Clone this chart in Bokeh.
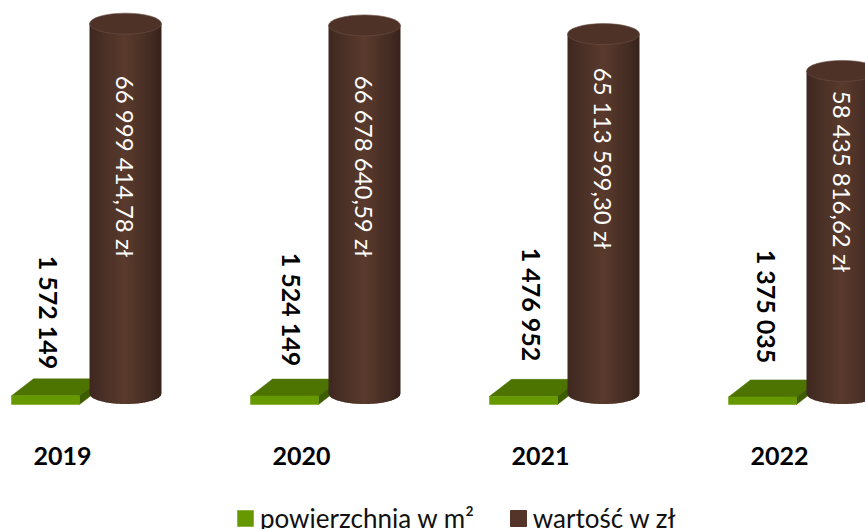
from bokeh.embed import file_html
from bokeh.resources import INLINE
from bokeh.plotting import figure
from bokeh.models import Legend, LegendItem, Range1d
from bokeh.core.properties import value
import math

years = ["2019", "2020", "2021", "2022"]
area_m2 = [1572149, 1524149, 1476952, 1375035]
value_pln = [66999414.78, 66678640.59, 65113599.30, 58435816.62]
area_labels = ["1 572 149", "1 524 149", "1 476 952", "1 375 035"]
value_labels = ["66 999 414,78 zł", "66 678 640,59 zł", "65 113 599,30 zł", "58 435 816,62 zł"]

W, H = 865, 529
PX_X = 239.0               # px per year group
PX_Y = 5.52e-6             # px per unit
BASE = 393                 # plot-px row of cylinder base centre
CX0 = 125                  # plot-px column of first cylinder axis
RX, RY = 36, 10.5

def dx(px):
    return px / PX_X
def dy(px):
    return px / PX_Y

p = figure(width=W, height=H, output_backend="svg", toolbar_location=None,
           x_range=Range1d(-CX0 / PX_X, (W - CX0) / PX_X),
           y_range=Range1d(-dy(H - BASE), dy(BASE)),
           min_border=0, outline_line_color=None)
p.axis.visible = False
p.grid.visible = False
p.background_fill_color = "white"

GREEN_F, GREEN_T, GREEN_S = "#669900", "#4d7300", "#3e5c00"
BROWN = "#543428"

idx = list(range(len(years)))

bx0 = [i + dx(-114) for i in idx]
bx1 = [i + dx(-46) for i in idx]
by0 = [-dy(11)] * 4
by1 = [-dy(11) + a for a in area_m2]
DX, DY = dx(22), dy(17)
p.patches([[a, b, b + DX, a + DX] for a, b in zip(bx0, bx1)],
          [[t, t, t + DY, t + DY] for t in by1],
          fill_color=GREEN_T, line_color=GREEN_T, line_width=0.5)
p.patches([[b, b + DX, b + DX, b] for b in bx1],
          [[l, l + DY, t + DY, t] for l, t in zip(by0, by1)],
          fill_color=GREEN_S, line_color=GREEN_S, line_width=0.5)
front = p.quad(left=bx0, right=bx1, bottom=by0, top=by1,
               fill_color=GREEN_F, line_color=GREEN_F, line_width=0.5)

N = 36
def shade(t):
    stops = [(0, (62, 40, 32)), (0.12, (70, 45, 36)), (0.5, (90, 58, 45)),
             (0.85, (68, 44, 35)), (1, (56, 35, 28))]
    for (a, ca), (b, cb) in zip(stops, stops[1:]):
        if t <= b:
            f = (t - a) / (b - a)
            c = [round(u + (v - u) * f) for u, v in zip(ca, cb)]
            return "#%02x%02x%02x" % tuple(c)
    return "#38231c"

for i, v in zip(idx, value_pln):
    xs_all, ys_all, cols = [], [], []
    for k in range(N):
        a = -1 + 2 * k / N
        b = min(1.0, -1 + 2 * (k + 1.6) / N)
        us = [a + (b - a) * j / 3 for j in range(4)]
        low = [-dy(RY) * math.sqrt(max(0.0, 1 - u * u)) for u in us]
        xs_all.append([i + dx(RX * u) for u in us] + [i + dx(RX * b), i + dx(RX * a)])
        ys_all.append(low + [v, v])
        cols.append(shade(k / (N - 1)))
    p.patches(xs_all, ys_all, fill_color=cols, line_color=None)

p.ellipse(x=idx, y=value_pln, width=dx(2 * RX), height=dy(2 * RY), fill_color="#4f3227",
          line_color="#6b5148", line_width=0.6)
legend_dummy = p.quad(left=[0], right=[0], bottom=[0], top=[0], fill_color=BROWN, line_color=BROWN)

vl_center = [166, 166, 158, 181]
p.text(x=[i + dx(-0.5) for i in idx],
       y=[dy(BASE - c) for c in vl_center],
       text=value_labels, angle=-math.pi / 2, text_align="center", text_baseline="middle",
       text_color="white", text_font=value("Lato"), text_font_size="24px")

al_center = [312, 309, 304, 306]
al_x = [-77, -73, -72, -76]
p.text(x=[i + dx(o) for i, o in zip(idx, al_x)], y=[dy(BASE - c) for c in al_center],
       text=area_labels, angle=-math.pi / 2, text_align="center", text_baseline="middle",
       text_color="black", text_font=value("Lato"), text_font_style="bold", text_font_size="25px")

p.text(x=[i + dx(-63) for i in idx], y=[dy(BASE - 455)] * 4, text=years,
       text_align="center", text_baseline="middle", text_color="black",
       text_font=value("Lato"), text_font_style="bold", text_font_size="25px")

legend = Legend(items=[LegendItem(label="powierzchnia w m²", renderers=[front]),
                       LegendItem(label="wartość w zł", renderers=[legend_dummy])],
                orientation="horizontal", location=(235, -5), border_line_color=None,
                background_fill_alpha=0, label_text_font="Lato", label_text_font_size="26px",
                label_text_color="#111111", glyph_width=20, glyph_height=20, spacing=34,
                label_standoff=5, padding=0, margin=0)
p.add_layout(legend, "center")

open("out.html", "w").write(file_html(p, INLINE))
